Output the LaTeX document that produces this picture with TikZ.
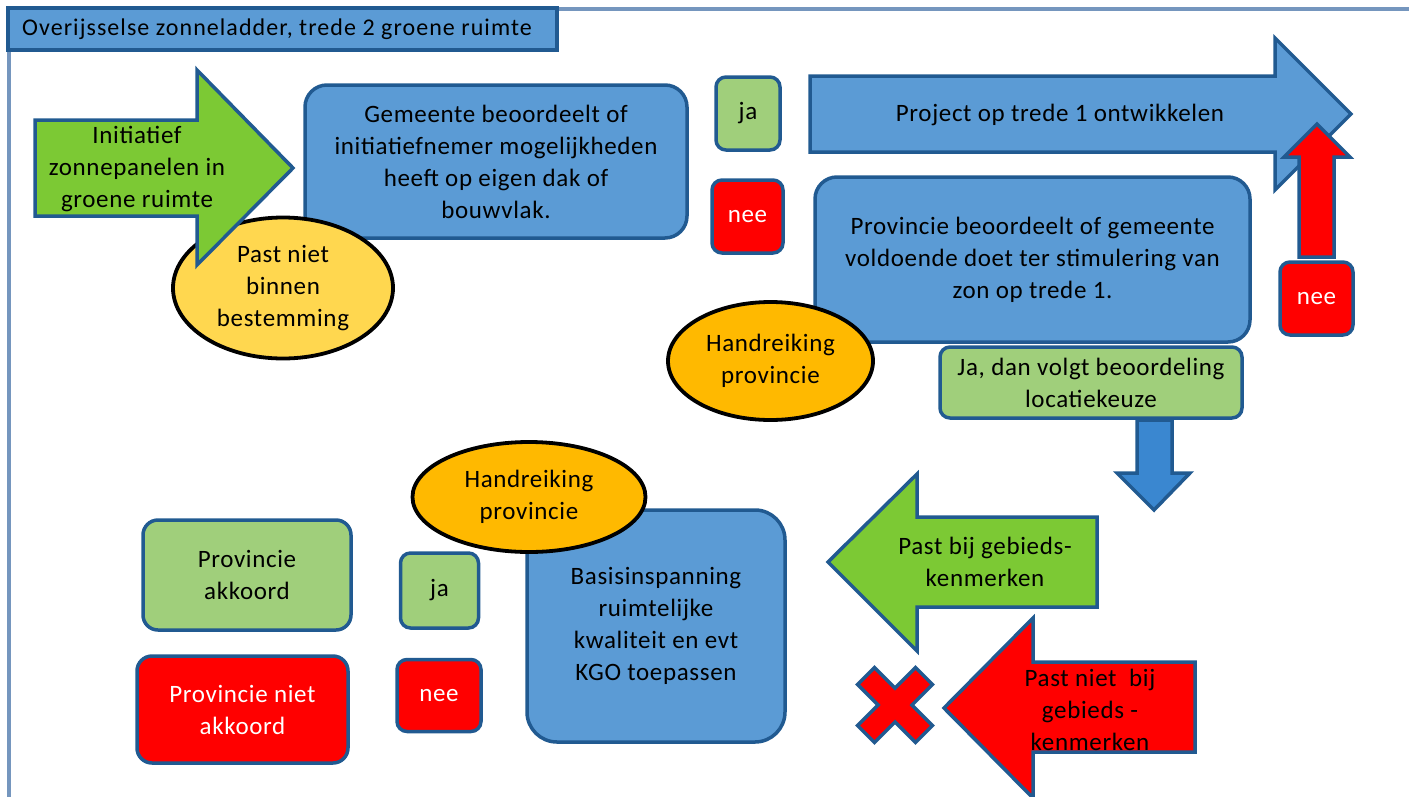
\documentclass[tikz,border=0pt]{standalone}
\usepackage{fontspec}
\setmainfont{Carlito}[LetterSpace=2.6]
\newfontfamily\titlefont{Carlito}[LetterSpace=4.4]
\usetikzlibrary{shapes.geometric}
\definecolor{bfill}{HTML}{5B9BD5}
\definecolor{bdraw}{HTML}{215A91}
\definecolor{dblue}{HTML}{3A87D0}
\definecolor{gfill}{HTML}{7CC934}
\definecolor{lgreen}{HTML}{A0CF7B}
\definecolor{yfill}{HTML}{FFD74F}
\definecolor{ofill}{HTML}{FFB900}
\definecolor{framec}{HTML}{7596BE}
\definecolor{rfill}{HTML}{FF0000}
\begin{document}
\begin{tikzpicture}[x=1pt,y=-1pt,
  txt/.style={font=\fontsize{25}{32}\selectfont, align=center, inner sep=0pt},
  box/.style={rectangle, draw=bdraw, line width=3.5pt, rounded corners=#1, inner sep=0pt, align=center, font=\fontsize{25}{32}\selectfont},
  box/.default=10pt,
  oval/.style={ellipse, draw=black, line width=3.8pt, inner sep=0pt, align=center, font=\fontsize{25}{32}\selectfont},
  arrowshape/.style={draw=bdraw, line width=3.5pt, line join=miter},
  frameline/.style={draw=framec, line width=4.5pt}]
\useasboundingbox (0,0) rectangle (1409,796);
\clip (0,0) rectangle (1409,796);
% frame
\draw[frameline] (9,800) -- (9,9) -- (1412,9);
% title
\node[box=0pt, fill=bfill, minimum width=549pt, minimum height=42pt] (title) at (282.5,29) {};
\node[txt, anchor=west, font=\titlefont\fontsize{24}{30}\selectfont] (titletext) at (22,29) {Overijsselse zonneladder, trede 2 groene ruimte};
% gemeente box
\node[box=22pt, fill=bfill, minimum width=382pt, minimum height=153pt] (gem) at (496,161.5)
  {Gemeente beoordeelt of\\initiatiefnemer mogelijkheden\\heeft op eigen dak of\\bouwvlak.};
% yellow ellipse
\node[oval, fill=yfill, minimum width=220pt, minimum height=141pt] (pnb) at (283,288) {Past niet\\binnen\\bestemming};
% green right arrow
\coordinate (gtip) at (293,168);
\filldraw[arrowshape, fill=gfill] (35,120) -- (197,120) -- (197,70) -- (gtip) -- (197,265) -- (197,216) -- (35,216) -- cycle;
\node[txt] (init) at (137,169) {Initiatief\\zonnepanelen in\\groene ruimte};
% ja / nee top
\node[box, fill=lgreen, minimum width=64pt, minimum height=73pt] (ja1) at (748,113.5) {ja};
\node[box, fill=rfill, text=white, minimum width=71pt, minimum height=73pt] (nee1) at (747.5,216.5) {nee};
% big blue arrow
\coordinate (btip) at (1351,114);
\filldraw[arrowshape, fill=bfill] (810,76) -- (1275,76) -- (1275,38) -- (btip) -- (1275,190) -- (1275,152) -- (810,152) -- cycle;
\node[txt] (project) at (1060,115) {Project op trede 1 ontwikkelen};
% red up arrow
\coordinate (rtip) at (1317,124);
\filldraw[arrowshape, fill=rfill] (1299,257) -- (1299,157) -- (1284,157) -- (rtip) -- (1350,157) -- (1334,157) -- (1334,257) -- cycle;
\node[box, fill=rfill, text=white, minimum width=73pt, minimum height=73pt] (neeR) at (1316.5,298.5) {nee};
% provincie box
\node[box=22pt, fill=bfill, minimum width=435pt, minimum height=165pt] (prov) at (1032.5,259.5)
  {Provincie beoordeelt of gemeente\\voldoende doet ter stimulering van\\zon op trede 1.};
\node[oval, fill=ofill, minimum width=205pt, minimum height=118pt] (hand1) at (770.5,361) {Handreiking\\provincie};
\node[box, fill=lgreen, minimum width=302pt, minimum height=71pt] (jadan) at (1091,382.5) {Ja, dan volgt beoordeling\\locatiekeuze};
% blue down arrow
\coordinate (dtip) at (1154,510);
\filldraw[arrowshape, fill=dblue] (1137,420) -- (1172,420) -- (1172,473) -- (1190,473) -- (dtip) -- (1117,473) -- (1137,473) -- cycle;
% green left arrow
\coordinate (gltip) at (828,562);
\filldraw[arrowshape, fill=gfill] (1097,517) -- (917,517) -- (917,474) -- (gltip) -- (917,651) -- (917,607) -- (1097,607) -- cycle;
\node[txt] (pastbij) at (985,562) {Past bij gebieds-\\kenmerken};
% red left arrow
\coordinate (rltip) at (944,708);
\filldraw[arrowshape, fill=rfill] (1195,662) -- (1033,662) -- (1033,618) -- (rltip) -- (1033,798) -- (1033,752) -- (1195,752) -- cycle;
\node[txt] (pastniet) at (1090,710) {Past niet\ \ bij\\gebieds -\\kenmerken};
% red cross
\begin{scope}[shift={(895,705)}, rotate=45]
\filldraw[arrowshape, fill=rfill] (12,41) -- (12,12) -- (41,12) -- (41,-12) -- (12,-12) -- (12,-41) -- (-12,-41) -- (-12,-12) -- (-41,-12) -- (-41,12) -- (-12,12) -- (-12,41) -- cycle;
\end{scope}
% bottom section
\node[box=30pt, fill=bfill, minimum width=258pt, minimum height=232pt] (basis) at (656,626)
  {Basisinspanning\\ruimtelijke\\kwaliteit en evt\\KGO toepassen};
\node[oval, fill=ofill, minimum width=233pt, minimum height=110pt] (hand2) at (529,497) {Handreiking\\provincie};
\node[box=15pt, fill=lgreen, minimum width=208pt, minimum height=110pt] (pakk) at (247,575) {Provincie\\akkoord};
\node[box=15pt, fill=rfill, text=white, minimum width=211pt, minimum height=107pt] (pniet) at (242.5,709.5) {Provincie niet\\akkoord};
\node[box, fill=lgreen, minimum width=78pt, minimum height=75pt] (ja2) at (439.5,590.5) {ja};
\node[box, fill=rfill, text=white, minimum width=84pt, minimum height=72pt] (nee2) at (439,695.5) {nee};
\end{tikzpicture}
\end{document}
